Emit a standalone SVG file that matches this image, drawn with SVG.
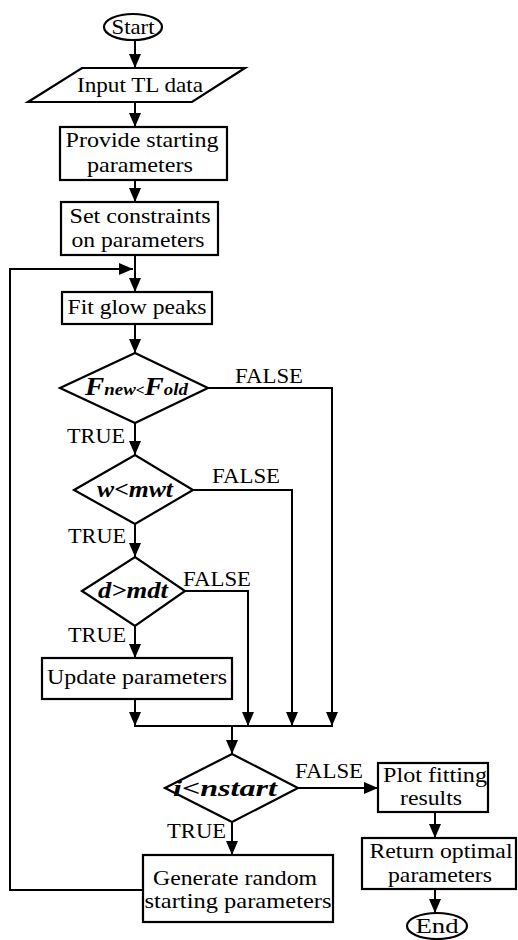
<svg xmlns="http://www.w3.org/2000/svg" width="518" height="940" viewBox="0 0 518 940">
<style>
.s{fill:#fff;stroke:#000;stroke-width:2.2}
.t{font-family:"Liberation Serif","Times New Roman",serif;font-size:21px;fill:#000;text-anchor:middle}
.l{font-family:"Liberation Serif","Times New Roman",serif;font-size:20px;fill:#000}
.d{font-family:"Liberation Serif","Times New Roman",serif;font-weight:bold;font-style:italic;fill:#000;font-size:23px}
.c{fill:none;stroke:#000;stroke-width:2}
</style>
<defs>
<marker id="a" markerUnits="userSpaceOnUse" markerWidth="14" markerHeight="12" refX="14" refY="6" orient="auto">
<path d="M0,0 L14,6 L0,12 z" fill="#000"/>
</marker>
</defs>
<rect width="518" height="940" fill="#fff"/>
<g id="connectors">
<line class="c" x1="135" y1="40" x2="135" y2="68" marker-end="url(#a)"/>
<line class="c" x1="135" y1="102" x2="135" y2="127" marker-end="url(#a)"/>
<line class="c" x1="135" y1="180" x2="135" y2="202" marker-end="url(#a)"/>
<line class="c" x1="135" y1="255" x2="135" y2="292" marker-end="url(#a)"/>
<path class="c" d="M143,890 H10 V269 H133" marker-end="url(#a)"/>
<line class="c" x1="135" y1="324" x2="135" y2="353" marker-end="url(#a)"/>
<line class="c" x1="135" y1="423" x2="135" y2="455" marker-end="url(#a)"/>
<line class="c" x1="135" y1="524" x2="135" y2="557" marker-end="url(#a)"/>
<line class="c" x1="135" y1="626" x2="135" y2="658" marker-end="url(#a)"/>
<line class="c" x1="135" y1="699" x2="135" y2="726" marker-end="url(#a)"/>
<path class="c" d="M208,388 H332 V726" marker-end="url(#a)"/>
<path class="c" d="M193,490 H292 V726" marker-end="url(#a)"/>
<path class="c" d="M185,591 H248 V726" marker-end="url(#a)"/>
<line class="c" x1="134" y1="726" x2="333" y2="726"/>
<line class="c" x1="232" y1="726" x2="232" y2="754" marker-end="url(#a)"/>
<line class="c" x1="232" y1="822" x2="232" y2="855" marker-end="url(#a)"/>
<line class="c" x1="298" y1="788" x2="378" y2="788" marker-end="url(#a)"/>
<line class="c" x1="435" y1="812" x2="435" y2="838" marker-end="url(#a)"/>
<line class="c" x1="435" y1="889" x2="435" y2="913" marker-end="url(#a)"/>
<text class="l" x="235" y="383" textLength="68" lengthAdjust="spacingAndGlyphs">FALSE</text>
<text class="l" x="67" y="443" textLength="58" lengthAdjust="spacingAndGlyphs">TRUE</text>
<text class="l" x="212" y="483" textLength="68" lengthAdjust="spacingAndGlyphs">FALSE</text>
<text class="l" x="68" y="543" textLength="58" lengthAdjust="spacingAndGlyphs">TRUE</text>
<text class="l" x="183" y="586" textLength="68" lengthAdjust="spacingAndGlyphs">FALSE</text>
<text class="l" x="68" y="642" textLength="58" lengthAdjust="spacingAndGlyphs">TRUE</text>
<text class="l" x="295" y="778" textLength="68" lengthAdjust="spacingAndGlyphs">FALSE</text>
<text class="l" x="167" y="838" textLength="59" lengthAdjust="spacingAndGlyphs">TRUE</text>
</g>
<g id="start">
<ellipse class="s" cx="133" cy="27" rx="29" ry="13"/>
<text class="t" x="133" y="34" textLength="43" lengthAdjust="spacingAndGlyphs">Start</text>
</g>
<g id="input">
<polygon class="s" points="82,68 245,68 192,102 28,102"/>
<text class="t" x="140" y="92" textLength="126" lengthAdjust="spacingAndGlyphs">Input TL data</text>
</g>
<g id="provide">
<rect class="s" x="60" y="127" width="167" height="53"/>
<text class="t" x="142" y="147" textLength="153" lengthAdjust="spacingAndGlyphs">Provide starting</text>
<text class="t" x="140" y="172" textLength="106" lengthAdjust="spacingAndGlyphs">parameters</text>
</g>
<g id="constraints">
<rect class="s" x="61" y="202" width="157" height="53"/>
<text class="t" x="140" y="223" textLength="141" lengthAdjust="spacingAndGlyphs">Set constraints</text>
<text class="t" x="138" y="247" textLength="133" lengthAdjust="spacingAndGlyphs">on parameters</text>
</g>
<g id="fit">
<rect class="s" x="62" y="292" width="150" height="32"/>
<text class="t" x="137" y="314" textLength="139" lengthAdjust="spacingAndGlyphs">Fit glow peaks</text>
</g>
<g id="d1">
<polygon class="s" points="60,388 135,353 208,388 135,423"/>
<text class="d" x="85" y="395" textLength="103" lengthAdjust="spacingAndGlyphs"><tspan font-size="26">F</tspan><tspan font-size="17">new</tspan><tspan font-size="14">&lt;</tspan><tspan font-size="26">F</tspan><tspan font-size="17">old</tspan></text>
</g>
<g id="d2">
<polygon class="s" points="74,490 135,455 193,490 135,524"/>
<text class="d" x="135" y="497" text-anchor="middle" textLength="76" lengthAdjust="spacingAndGlyphs">w&lt;mwt</text>
</g>
<g id="d3">
<polygon class="s" points="82,591 135,557 185,591 135,626"/>
<text class="d" x="133" y="598" text-anchor="middle" textLength="70" lengthAdjust="spacingAndGlyphs">d&gt;mdt</text>
</g>
<g id="update">
<rect class="s" x="42" y="658" width="190" height="41"/>
<text class="t" x="137" y="684" textLength="180" lengthAdjust="spacingAndGlyphs">Update parameters</text>
</g>
<g id="d4">
<polygon class="s" points="165,788 232,754 298,788 232,822"/>
<text class="d" x="225" y="796" text-anchor="middle" textLength="104" lengthAdjust="spacingAndGlyphs">i&lt;nstart</text>
</g>
<g id="generate">
<rect class="s" x="143" y="855" width="190" height="67"/>
<text class="t" x="235" y="885" textLength="164" lengthAdjust="spacingAndGlyphs">Generate random</text>
<text class="t" x="238" y="908" textLength="187" lengthAdjust="spacingAndGlyphs">starting parameters</text>
</g>
<g id="plot">
<rect class="s" x="378" y="763" width="110" height="49"/>
<text class="t" x="435" y="782" textLength="104" lengthAdjust="spacingAndGlyphs">Plot fitting</text>
<text class="t" x="431" y="805" textLength="62" lengthAdjust="spacingAndGlyphs">results</text>
</g>
<g id="return">
<rect class="s" x="362" y="838" width="154" height="51"/>
<text class="t" x="441" y="858" textLength="143" lengthAdjust="spacingAndGlyphs">Return optimal</text>
<text class="t" x="440" y="882" textLength="104" lengthAdjust="spacingAndGlyphs">parameters</text>
</g>
<g id="end">
<ellipse class="s" cx="437" cy="926" rx="30" ry="13"/>
<text class="t" x="437" y="933" textLength="43" lengthAdjust="spacingAndGlyphs">End</text>
</g>
</svg>
